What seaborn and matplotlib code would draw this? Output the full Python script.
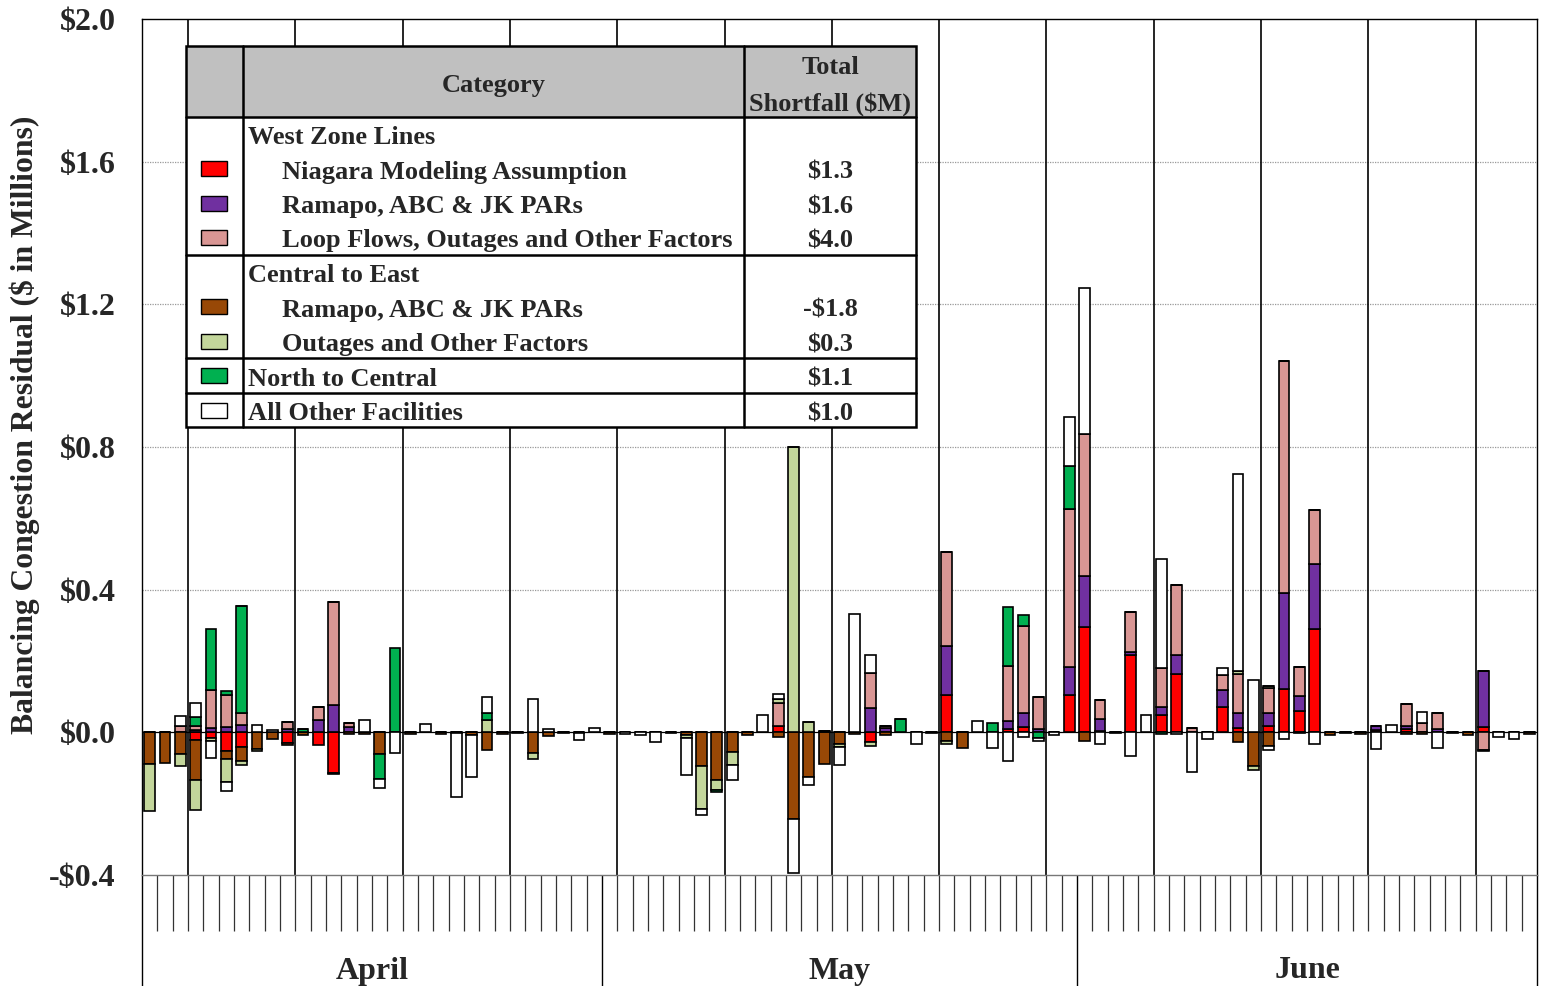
import numpy as np
import pandas as pd
import matplotlib
matplotlib.use("Agg")
import matplotlib.pyplot as plt
import seaborn as sns
from matplotlib.transforms import Affine2D, blended_transform_factory
from matplotlib.patches import Rectangle
from matplotlib.lines import Line2D
from matplotlib.ticker import NullFormatter

# ---------------- data ----------------
months = ["April", "May", "June"]
month_days = [30, 31, 30]

series_names = ["Niagara Modeling Assumption", "West Ramapo, ABC & JK PARs",
                "Loop Flows, Outages and Other Factors", "Central-East Ramapo, ABC & JK PARs",
                "Outages and Other Factors", "North to Central", "All Other Facilities"]

niagara = ([0, 0, 0, -0.022, -0.015, -0.052, -0.041, 0, 0, -0.03,
            0, -0.036, -0.113, 0, 0, 0, 0, 0, 0, 0,
            0, 0, 0, 0, 0, 0, 0, 0, 0, 0]
           + [0, 0, 0, 0, 0, 0, 0, 0, 0, 0,
              0, 0.019, 0, 0, 0, 0, 0, -0.027, 0, 0,
              0, 0, 0.104, 0, 0, 0, 0.008, 0.015, 0, 0,
              0.106]
           + [0.295, 0.004, 0, 0.217, 0, 0.048, 0.163, 0, 0, 0.071,
              0.012, 0, 0.018, 0.122, 0.06, 0.289, 0, 0, 0, 0.007,
              0, 0.01, 0, 0, 0, 0, 0.015, 0, 0, 0])

west_pars = ([0, 0, 0, 0.007, 0.013, 0.015, 0.02, 0, 0, 0.01,
              0, 0.034, 0.076, 0.015, 0, 0, 0, 0, 0, 0,
              0, 0, 0, 0, 0, 0, 0, 0, 0, 0]
             + [0, 0, 0, 0, 0, 0, 0, 0, 0, 0,
                0, 0, 0, 0, 0, 0, 0, 0.067, 0.013, 0,
                0, 0, 0.137, 0, 0, 0, 0.023, 0.039, 0.01, 0,
                0.078]
             + [0.142, 0.034, 0, 0.008, 0, 0.024, 0.053, 0, 0, 0.049,
                0.043, 0, 0.035, 0.269, 0.041, 0.182, 0, 0, 0, 0.012,
                0, 0.007, 0, 0.01, 0, 0, 0.157, 0, 0, 0])

loop_flows = ([0, 0, 0.018, 0.012, 0.105, 0.089, 0.035, 0, 0, 0.019,
               0, 0.037, 0.29, 0.01, 0, 0, 0, 0, 0, 0,
               0, 0, 0, 0, 0, 0, 0, 0, 0, 0]
              + [0, 0, 0, 0, 0, 0, 0, 0, 0, 0,
                 0, 0.064, 0, 0, 0, 0, 0, 0.1, 0.004, 0,
                 0, 0, 0.264, 0, 0, 0, 0.156, 0.243, 0.089, 0,
                 0.442]
              + [0.4, 0.052, 0, 0.113, 0, 0.107, 0.198, 0.012, 0, 0.04,
                 0.109, 0, 0.07, 0.649, 0.082, 0.153, 0, 0, 0, 0,
                 0, 0.063, 0.026, 0.045, 0, 0, -0.05, 0, 0, 0])

ce_pars = ([-0.09, -0.086, -0.06, -0.112, 0, -0.024, -0.039, -0.047, -0.02, -0.006,
            -0.008, 0, -0.005, -0.004, -0.005, -0.06, 0, -0.005, 0, -0.005,
            -0.003, -0.008, -0.049, -0.004, -0.003, -0.057, -0.011, -0.003, -0.003, 0]
           + [-0.004, 0, 0, 0, -0.003, -0.008, -0.095, -0.135, -0.055, -0.008,
              0, -0.013, -0.244, -0.125, -0.088, -0.032, -0.005, 0, -0.008, 0,
              0, -0.002, -0.024, -0.043, 0, 0, 0, 0, 0, 0,
              0]
           + [-0.025, 0, -0.002, 0, 0, 0, 0, 0, 0, 0,
              -0.028, -0.095, -0.039, 0, -0.003, 0, -0.008, -0.003, -0.006, 0,
              0, -0.005, -0.006, 0, -0.002, -0.007, -0.003, 0, 0, -0.006])

ce_outages = ([-0.13, 0, -0.033, -0.084, -0.008, -0.063, -0.012, -0.005, 0, 0,
               0, 0, 0, 0, 0, 0, 0, 0, 0, 0,
               0, 0, 0.034, 0, 0, -0.019, 0, 0, 0, 0]
              + [0, 0, 0, 0, 0, -0.009, -0.121, -0.028, -0.037, 0,
                 0, 0.011, 0.80, 0.028, 0.005, -0.009, 0, -0.01, 0, 0,
                 0, 0, -0.009, 0, 0, 0, 0, 0, 0, 0,
                 0]
              + [0, 0, 0, 0, 0, 0, 0, 0, 0, 0,
                 0.008, -0.01, 0.007, 0, 0, 0, 0, 0, 0, 0,
                 0, 0, 0, 0, 0, 0, 0, 0, 0, 0])

north_central = ([0, 0, 0, 0.025, 0.173, 0.011, 0.30, 0, 0, 0,
                  0.008, 0, 0, 0, 0, -0.07, 0.236, 0, 0, 0,
                  0, 0, 0.021, 0, 0, 0, 0, 0, 0, 0]
                 + [0, 0, 0, 0, 0, 0, 0, -0.004, 0, 0,
                    0, 0, 0, 0, 0, 0, 0, 0, 0, 0.038,
                    0, 0, 0, 0, 0, 0.026, 0.165, 0.033, -0.015, 0,
                    0.121]
                 + [0, 0, 0, 0, 0, -0.006, 0, 0, 0, 0,
                    0, 0, 0, 0, 0, 0, 0, 0, 0, 0,
                    0, 0, 0, 0, 0, 0, 0, 0, 0, 0])

other_fac = ([0, 0, 0.027, 0.037, -0.048, -0.026, 0, 0.021, 0.007, 0,
              0, 0, 0, 0, 0.035, -0.026, -0.057, 0, 0.024, 0,
              -0.178, -0.117, 0.044, 0, 0, 0.094, 0.009, 0, -0.018, 0.012]
             + [0, -0.004, -0.008, -0.027, 0, -0.103, -0.016, 0, -0.042, 0,
                0.05, 0.014, -0.15, -0.023, 0, -0.051, 0.333, 0.05, 0, 0,
                -0.032, 0, 0, 0, 0.032, -0.043, -0.08, -0.013, -0.01, -0.008,
                0.136]
             + [0.409, -0.034, 0, -0.067, 0.05, 0.307, -0.006, -0.11, -0.018, 0.02,
                0.553, 0.148, -0.011, -0.02, 0, -0.032, 0, 0, 0, -0.047,
                0.021, 0, 0.031, -0.045, 0, 0, 0, -0.012, -0.018, 0])

series_values = [niagara, west_pars, loop_flows, ce_pars, ce_outages, north_central, other_fac]
series_colors = ["#FF0000", "#7030A0", "#D99694", "#984806", "#C3D69B", "#00B050", "#FFFFFF"]

y_ticks = [-0.4, 0.0, 0.4, 0.8, 1.2, 1.6, 2.0]

# legend table content
table_groups = ["West Zone Lines", "Central to East"]
table_labels = ["Niagara Modeling Assumption", "Ramapo, ABC & JK PARs",
                "Loop Flows, Outages and Other Factors", "Ramapo, ABC & JK PARs",
                "Outages and Other Factors", "North to Central", "All Other Facilities"]
table_totals = ["$1.3", "$1.6", "$4.0", "-$1.8", "$0.3", "$1.1", "$1.0"]

# ---------------- style ----------------
sns.set_style("white")
plt.rcParams['font.family'] = ['Liberation Serif', 'DejaVu Serif']
plt.rcParams['font.weight'] = 'bold'
plt.rcParams['text.parse_math'] = False

W, H = 1543, 986
fig = plt.figure(figsize=(W / 100, H / 100), dpi=100)
ax = fig.add_axes([142 / W, 1 - 875 / H, (1537 - 142) / W, (875 - 19) / H])

n_days = sum(month_days)
days = np.arange(n_days)
pos = np.zeros(n_days)
neg = np.zeros(n_days)
for vals, col in zip(series_values, series_colors):
    v = np.asarray(vals, dtype=float)
    bottom = np.where(v >= 0, pos, neg)
    df = pd.DataFrame({"day": days, "value": v})
    sns.barplot(data=df, x="day", y="value", color=col, saturation=1, errorbar=None,
                width=0.7, bottom=bottom, edgecolor="black", linewidth=1.2,
                ax=ax, zorder=3)
    pos = pos + np.where(v > 0, v, 0)
    neg = neg + np.where(v < 0, v, 0)

ax.set_xlim(-0.5, n_days - 0.5)
ax.set_ylim(-0.4, 2.0)
ax.set_xlabel("")
ax.set_ylabel("")

# gridlines
for yv in [0.4, 0.8, 1.2, 1.6]:
    ax.axhline(yv, color="#999999", lw=0.9, ls=(0, (1, 1)), zorder=1)
ax.axhline(0, color="black", lw=0.9, zorder=2)
for b in np.arange(2.5, n_days, 7):
    ax.axvline(b, color="black", lw=1.2, zorder=1)

# y axis
ax.set_yticks(y_ticks)
ax.set_yticklabels([("-$%.1f" % abs(t)) if t < 0 else ("$%.1f" % t) for t in y_ticks],
                   fontsize=23, fontweight="bold")
ax.tick_params(axis="y", length=0, pad=19)

# x axis: month boundaries (long) and day boundaries (short)
bounds = np.concatenate([[0], np.cumsum(month_days)]) - 0.5
ax.set_xticks(bounds)
ax.set_xticks(np.arange(-0.5, n_days, 1), minor=True)
ax.xaxis.set_major_formatter(NullFormatter())
ax.xaxis.set_minor_formatter(NullFormatter())
ax.tick_params(axis="x", which="both", bottom=True, top=False)
ax.tick_params(axis="x", which="major", length=80, width=1.0, color="black", direction="out")
ax.tick_params(axis="x", which="minor", length=40, width=0.9, color="#333333", direction="out")

for s in ["left", "top", "right"]:
    ax.spines[s].set_color("black")
    ax.spines[s].set_linewidth(1.0)
ax.spines["bottom"].set_color("#777777")
ax.spines["bottom"].set_linewidth(1.0)

trans_m = blended_transform_factory(ax.transData, ax.transAxes)
for i, m in enumerate(months):
    ax.text((bounds[i] + bounds[i + 1]) / 2, (875 - 971) / 856, m, transform=trans_m,
            ha="center", va="center", fontsize=23, fontweight="bold")

fig.text(25 / W, 1 - 425 / H, "Balancing Congestion Residual ($ in Millions)",
         rotation=90, ha="center", va="center", fontsize=22.8, fontweight="bold")

# ---------------- legend table ----------------
T = Affine2D().scale(1 / W, -1 / H).translate(0, 1) + fig.transFigure
tx0, tx1, ty0, ty1 = 186, 916, 46, 427
c1, c2 = 243, 744
fig.add_artist(Rectangle((tx0, ty0), tx1 - tx0, ty1 - ty0, transform=T,
                         facecolor="white", edgecolor="none", zorder=5))
fig.add_artist(Rectangle((tx0, ty0), tx1 - tx0, 117 - ty0, transform=T,
                         facecolor="#C0C0C0", edgecolor="none", zorder=5))
lw_t = 1.8
for yy in [117, 255, 358, 393]:
    fig.add_artist(Line2D([tx0, tx1], [yy, yy], transform=T, color="black", lw=lw_t, zorder=6))
for xx in [c1, c2]:
    fig.add_artist(Line2D([xx, xx], [ty0, ty1], transform=T, color="black", lw=lw_t, zorder=6))
fig.add_artist(Rectangle((tx0, ty0), tx1 - tx0, ty1 - ty0, transform=T,
                         facecolor="none", edgecolor="black", lw=lw_t, zorder=7))

fs_t = 19
dy = 3
def ttext(x, y, s, ha="left"):
    fig.text(x / W, 1 - (y + dy) / H, s, ha=ha, va="center", fontsize=fs_t,
             fontweight="bold", zorder=8)

ttext((c1 + c2) / 2, 82, "Category", ha="center")
ttext((c2 + tx1) / 2, 64, "Total", ha="center")
ttext((c2 + tx1) / 2, 101, "Shortfall ($M)", ha="center")
ttext(248, 135, table_groups[0])
ttext(248, 273, table_groups[1])

row_y = [169, 204, 238, 307, 342, 376, 411]
row_x = [282, 282, 282, 282, 282, 248, 248]
for lab, tot, yy, xx, col in zip(table_labels, table_totals, row_y, row_x, series_colors):
    ttext(xx, yy, lab)
    ttext((c2 + tx1) / 2, yy, tot, ha="center")
    fig.add_artist(Rectangle((201, yy - 8), 26, 15, transform=T, facecolor=col,
                             edgecolor="black", lw=1.0, zorder=8))

fig.savefig("out.png", dpi=100)
